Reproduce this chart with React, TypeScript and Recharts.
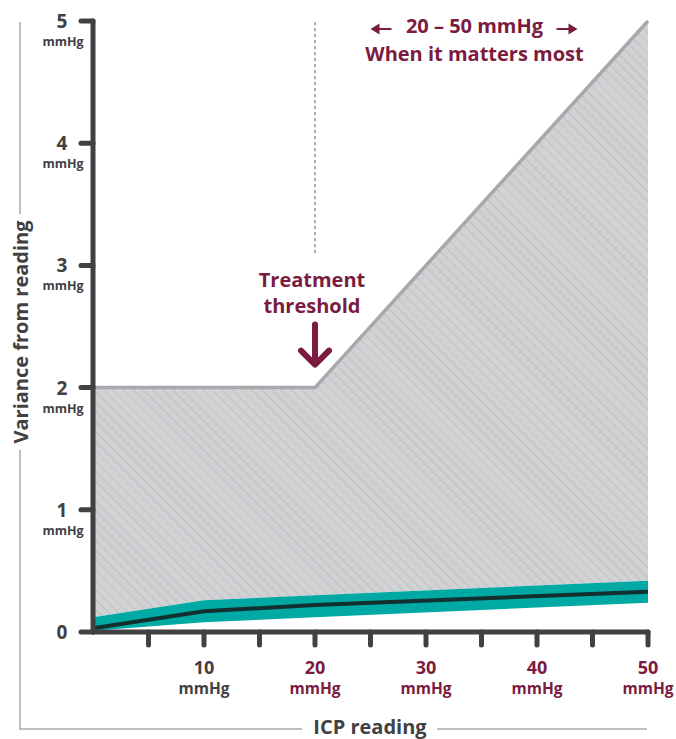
import { ComposedChart, Area, Line, XAxis, YAxis, ReferenceLine, ReferenceDot } from 'recharts';

// ICP reading (mmHg) where the curves change direction
const icpReading = [0, 10, 20, 50];
// upper edge of the grey (typical competitor) variance
const maxVariance = [2, 2, 2, 5];
// teal band (our sensor) upper / lower edges and the mean line
const bandHigh = [0.12, 0.26, 0.3, 0.42];
const bandLow = [0.01, 0.08, 0.12, 0.24];
const typicalVariance = [0.03, 0.17, 0.22, 0.33];

const xTicks = [5, 10, 15, 20, 25, 30, 35, 40, 45, 50];
const xLabels = [10, 20, 30, 40, 50];
const yTicks = [0, 1, 2, 3, 4, 5];
const unit = 'mmHg';
const threshold = 20;

const DARK = '#414042';
const MAROON = '#7a1b3f';
const TEAL = '#00a9a4';
const FONT = "'Open Sans', 'Noto Sans', sans-serif";

const data = icpReading.map((x, i) => ({
  x,
  grey: [bandHigh[i], maxVariance[i]],
  band: [bandLow[i], bandHigh[i]],
  max: maxVariance[i],
  typical: typicalVariance[i],
}));

function XTick(props: any) {
  const { x, y, payload } = props;
  const v = payload.value;
  if (!xLabels.includes(v)) return <g />;
  const color = v >= threshold ? MAROON : DARK;
  return (
    <g fontFamily={FONT} fontWeight={700} fill={color} textAnchor="middle">
      <text x={x} y={y + 27} fontSize={18}>{v}</text>
      <text x={x} y={y + 47} fontSize={15.5}>{unit}</text>
    </g>
  );
}

function YTick(props: any) {
  const { x, y, payload } = props;
  const v = payload.value;
  return (
    <g fontFamily={FONT} fontWeight={700} fill={DARK} textAnchor="middle">
      <text x={x - 17} y={y + 7} fontSize={19}>{v}</text>
      {v > 0 && <text x={x - 16} y={y + 25} fontSize={12.5}>{unit}</text>}
    </g>
  );
}

function ThresholdNote(props: any) {
  const { cx, cy } = props;
  return (
    <g fontFamily={FONT} fontWeight={700} fill={MAROON} textAnchor="middle">
      <text x={cx - 3} y={cy - 101} fontSize={20}>Treatment</text>
      <text x={cx - 3} y={cy - 75} fontSize={20}>threshold</text>
      <path
        d={`M${cx} ${cy - 63} L${cx} ${cy - 23} M${cx - 14} ${cy - 37} L${cx} ${cy - 23} L${cx + 14} ${cy - 37}`}
        stroke={MAROON}
        strokeWidth={6}
        strokeLinecap="round"
        strokeLinejoin="round"
        fill="none"
      />
    </g>
  );
}

function RangeNote(props: any) {
  const { cx, cy } = props;
  const c = cx - 7;
  return (
    <g fontFamily={FONT} fontWeight={700} fill={MAROON} textAnchor="middle">
      <text x={c} y={cy + 12} fontSize={20}>20 – 50 mmHg</text>
      <text x={c} y={cy + 40} fontSize={20}>When it matters most</text>
      <path d={`M${c - 99} ${cy + 8} L${c - 83} ${cy + 8}`} stroke={MAROON} strokeWidth={2} />
      <path d={`M${c - 104} ${cy + 8} L${c - 95} ${cy + 2.5} L${c - 95} ${cy + 13.5} Z`} fill={MAROON} />
      <path d={`M${c + 82} ${cy + 8} L${c + 98} ${cy + 8}`} stroke={MAROON} strokeWidth={2} />
      <path d={`M${c + 103} ${cy + 8} L${c + 94} ${cy + 2.5} L${c + 94} ${cy + 13.5} Z`} fill={MAROON} />
    </g>
  );
}

export default function App() {
  return (
    <div style={{ position: 'absolute', left: 0, top: 0, background: '#fff' }}>
      <ComposedChart width={676} height={739} data={data} margin={{ top: 21, right: 28, bottom: 0, left: 0 }}>
        <defs>
          <pattern id="hatch" width="7" height="7" patternUnits="userSpaceOnUse" patternTransform="rotate(-45)">
            <rect width="7" height="7" fill="#d1d2d4" />
            <line x1="0" y1="0" x2="0" y2="7" stroke="#b1b3b6" strokeWidth={1.2} />
          </pattern>
        </defs>
        <Area
          type="linear"
          dataKey="grey"
          fill="url(#hatch)"
          fillOpacity={1}
          stroke="none"
          isAnimationActive={false}
        />
        <Line type="linear" dataKey="max" stroke="#a6a8ab" strokeWidth={3.5} dot={false} isAnimationActive={false} />
        <Area type="linear" dataKey="band" fill={TEAL} fillOpacity={1} stroke="none" isAnimationActive={false} />
        <Line type="linear" dataKey="typical" stroke="#12302f" strokeWidth={4} dot={false} isAnimationActive={false} />
        <ReferenceLine
          segment={[{ x: threshold, y: 3.1 }, { x: threshold, y: 5 }]}
          stroke="#58595b"
          strokeWidth={1}
          strokeDasharray="3 3"
        />
        <ReferenceDot x={threshold} y={2} r={0} shape={(p: any) => <ThresholdNote {...p} />} />
        <ReferenceDot x={35} y={5} r={0} shape={(p: any) => <RangeNote {...p} />} />
        <XAxis
          type="number"
          dataKey="x"
          domain={[0, 50]}
          ticks={xTicks}
          interval={0}
          height={107}
          tickSize={13}
          axisLine={{ stroke: DARK, strokeWidth: 5, strokeLinecap: 'round' }}
          tickLine={{ stroke: DARK, strokeWidth: 5, strokeLinecap: 'round' }}
          tick={<XTick />}
        />
        <YAxis
          type="number"
          domain={[0, 5]}
          ticks={yTicks}
          interval={0}
          width={93}
          tickSize={12}
          axisLine={{ stroke: DARK, strokeWidth: 5, strokeLinecap: 'round' }}
          tickLine={{ stroke: DARK, strokeWidth: 5, strokeLinecap: 'round' }}
          tick={<YTick />}
        />
        <g stroke="#a7a9ac" strokeWidth={1.5} fill="none">
          <path d="M20 22 L20 214" />
          <path d="M20 450 L20 729 L302 729" />
          <path d="M437 729 L647 729" />
        </g>
        <text
          x={20}
          y={332}
          transform="rotate(-90 20 332)"
          textAnchor="middle"
          dominantBaseline="central"
          fontFamily={FONT}
          fontWeight={700}
          fontSize={20}
          fill={DARK}
        >
          Variance from reading
        </text>
        <text x={370} y={734} textAnchor="middle" fontFamily={FONT} fontWeight={700} fontSize={20} fill={DARK}>
          ICP reading
        </text>
      </ComposedChart>
    </div>
  );
}
